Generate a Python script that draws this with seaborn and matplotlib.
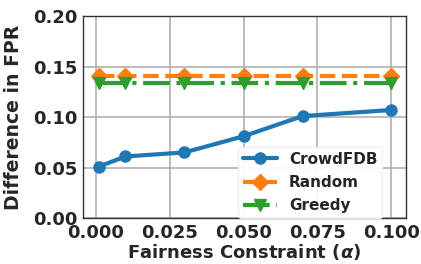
import matplotlib
matplotlib.use("Agg")
import matplotlib.pyplot as plt
import seaborn as sns
import pandas as pd

alpha = [0.001, 0.01, 0.03, 0.05, 0.07, 0.1]
crowdfdb = [0.051, 0.061, 0.065, 0.081, 0.101, 0.107]
random_v = [0.141, 0.141, 0.141, 0.141, 0.141, 0.141]
greedy = [0.134, 0.134, 0.134, 0.134, 0.134, 0.134]

sns.set_style("whitegrid")
plt.rcParams['font.family'] = ['DejaVu Sans']
plt.rcParams['font.weight'] = 'bold'
plt.rcParams['axes.labelweight'] = 'bold'

fig = plt.figure(figsize=(4.21, 2.64), dpi=100)
ax = fig.add_axes([0.197, 0.174, 0.767, 0.765])

df = pd.DataFrame({"alpha": alpha, "CrowdFDB": crowdfdb, "Random": random_v, "Greedy": greedy})
colors = ["#1f77b4", "#ff7f0e", "#2ca02c"]
styles = [("CrowdFDB", "o", "-"), ("Random", "D", "--"), ("Greedy", "v", "-.")]
for (name, m, ls), c in zip(styles, colors):
    sns.lineplot(data=df, x="alpha", y=name, ax=ax, color=c, marker=m, linestyle=ls,
                 linewidth=3, markersize=8, markeredgewidth=1, markeredgecolor=c,
                 label=name)

ax.set_xlim(-0.0044, 0.105)
ax.set_ylim(0, 0.2)
ax.set_xticks([0.0, 0.025, 0.05, 0.075, 0.1])
ax.set_xticklabels(["0.000", "0.025", "0.050", "0.075", "0.100"])
ax.set_yticks([0.0, 0.05, 0.1, 0.15, 0.2])
ax.set_yticklabels(["0.00", "0.05", "0.10", "0.15", "0.20"])
ax.tick_params(labelsize=13, length=3, pad=1)
for lab in ax.get_xticklabels() + ax.get_yticklabels():
    lab.set_fontweight("bold")
ax.set_xlabel(r"Fairness Constraint ($\alpha$)", fontsize=13, fontweight="bold", labelpad=0)
ax.set_ylabel("Difference in FPR", fontsize=13.6, fontweight="bold", labelpad=7)
ax.grid(True, color="#b0b0b0", linewidth=1.2)
for s in ax.spines.values():
    s.set_color("#333333")
    s.set_linewidth(1.0)
leg = ax.legend(loc="lower right", bbox_to_anchor=(0.926, 0.0), borderaxespad=0.0,
                prop={"weight": "bold", "size": 11}, frameon=True,
                handlelength=2.2, borderpad=0.3, labelspacing=0.55, handletextpad=0.8,
                framealpha=0.9, edgecolor="#eeeeee", fancybox=True)
fig.savefig("out.png", dpi=100)
